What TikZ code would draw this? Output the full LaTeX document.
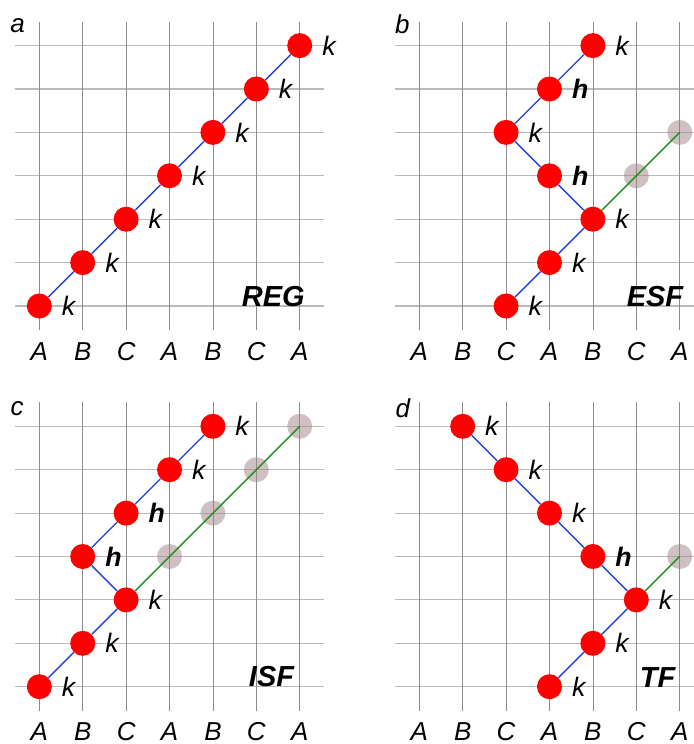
\documentclass[tikz,border=0pt]{standalone}
\usepackage{fontspec}
\setmainfont{Liberation Sans}
\usepackage{xcolor}
\usepackage{tikz}
\usetikzlibrary{positioning}
\definecolor{latticered}{HTML}{FF0000}
\definecolor{stackblue}{HTML}{2040E0}
\definecolor{faultgreen}{HTML}{1E8C1E}
\definecolor{ghostbrown}{HTML}{A08484}
\tikzset{
  gridh/.style={black!27,line width=0.7pt},
  gridv/.style={black!45,line width=0.45pt},
  bond/.style={stackblue,line width=0.9pt},
  faultbond/.style={faultgreen,line width=0.9pt},
  atom/.style={circle,fill=latticered,inner sep=0pt,minimum size=0.576cm},
  ghost/.style={circle,fill=ghostbrown,fill opacity=0.5,inner sep=0pt,minimum size=0.576cm},
  sitelabel/.style={font=\fontsize{17.5}{17.5}\selectfont\itshape,right=0.1cm of #1},
  hexlabel/.style={font=\fontsize{17.5}{17.5}\selectfont\bfseries\itshape,right=0.1cm of #1},
  layer/.style={font=\fontsize{17}{17}\selectfont\itshape},
  faultname/.style={font=\fontsize{19}{19}\selectfont\bfseries\itshape},
  panel/.style={font=\fontsize{17}{17}\selectfont\itshape}
}

\begin{document}
\begin{tikzpicture}
\useasboundingbox (0,0) rectangle (15.968,17.143);

% panel a: regular stacking
\begin{scope}[shift={(0.906,10.092)}]
\foreach \r in {0,...,6} \draw[gridh] (-0.56,\r) -- (6.56,\r);
\foreach \c/\l in {0/A,1/B,2/C,3/A,4/B,5/C,6/A} {
  \draw[gridv] (\c,-0.55) -- (\c,6.55);
  \node[layer] at (\c,-1.04) {\l};
}
\node[panel] (tagA) at (-0.50,6.47) {a};
\node[atom] (a0) at (0,0) {};
\node[atom] (a1) at (1,1) {};
\node[atom] (a2) at (2,2) {};
\node[atom] (a3) at (3,3) {};
\node[atom] (a4) at (4,4) {};
\node[atom] (a5) at (5,5) {};
\node[atom] (a6) at (6,6) {};
\draw[bond] (a0) -- (a1) -- (a2) -- (a3) -- (a4) -- (a5) -- (a6);
\foreach \n in {a0,a1,a2,a3,a4,a5,a6} \node[sitelabel=\n] {k};
\node[faultname] (nameA) at (5.39,0.21) {REG};
\end{scope}

% panel b: extrinsic stacking fault
\begin{scope}[shift={(9.661,10.092)}]
\foreach \r in {0,...,6} \draw[gridh] (-0.56,\r) -- (6.56,\r);
\foreach \c/\l in {0/A,1/B,2/C,3/A,4/B,5/C,6/A} {
  \draw[gridv] (\c,-0.55) -- (\c,6.55);
  \node[layer] at (\c,-1.04) {\l};
}
\node[panel] (tagB) at (-0.39,6.49) {b};
\node[ghost] (bg1) at (5,3) {};
\node[ghost] (bg2) at (6,4) {};
\node[atom] (b0) at (2,0) {};
\node[atom] (b1) at (3,1) {};
\node[atom] (b2) at (4,2) {};
\node[atom] (b3) at (3,3) {};
\node[atom] (b4) at (2,4) {};
\node[atom] (b5) at (3,5) {};
\node[atom] (b6) at (4,6) {};
\draw[faultbond] (b2) -- (bg2.center);
\draw[bond] (b0) -- (b1) -- (b2) -- (b3) -- (b4) -- (b5) -- (b6);
\foreach \n in {b0,b1,b2,b4,b6} \node[sitelabel=\n] {k};
\foreach \n in {b3,b5} \node[hexlabel=\n] {h};
\node[faultname] (nameB) at (5.43,0.21) {ESF};
\end{scope}

% panel c: intrinsic stacking fault
\begin{scope}[shift={(0.906,1.320)}]
\foreach \r in {0,...,6} \draw[gridh] (-0.56,\r) -- (6.56,\r);
\foreach \c/\l in {0/A,1/B,2/C,3/A,4/B,5/C,6/A} {
  \draw[gridv] (\c,-0.55) -- (\c,6.55);
  \node[layer] at (\c,-1.04) {\l};
}
\node[panel] (tagC) at (-0.51,6.41) {c};
\node[ghost] (cg1) at (3,3) {};
\node[ghost] (cg2) at (4,4) {};
\node[ghost] (cg3) at (5,5) {};
\node[ghost] (cg4) at (6,6) {};
\node[atom] (c0) at (0,0) {};
\node[atom] (c1) at (1,1) {};
\node[atom] (c2) at (2,2) {};
\node[atom] (c3) at (1,3) {};
\node[atom] (c4) at (2,4) {};
\node[atom] (c5) at (3,5) {};
\node[atom] (c6) at (4,6) {};
\draw[faultbond] (c2) -- (cg4.center);
\draw[bond] (c0) -- (c1) -- (c2) -- (c3) -- (c4) -- (c5) -- (c6);
\foreach \n in {c0,c1,c2,c5,c6} \node[sitelabel=\n] {k};
\foreach \n in {c3,c4} \node[hexlabel=\n] {h};
\node[faultname] (nameC) at (5.35,0.23) {ISF};
\end{scope}

% panel d: twin fault
\begin{scope}[shift={(9.661,1.320)}]
\foreach \r in {0,...,6} \draw[gridh] (-0.56,\r) -- (6.56,\r);
\foreach \c/\l in {0/A,1/B,2/C,3/A,4/B,5/C,6/A} {
  \draw[gridv] (\c,-0.55) -- (\c,6.55);
  \node[layer] at (\c,-1.04) {\l};
}
\node[panel] (tagD) at (-0.38,6.42) {d};
\node[ghost] (dg1) at (6,3) {};
\node[atom] (d0) at (3,0) {};
\node[atom] (d1) at (4,1) {};
\node[atom] (d2) at (5,2) {};
\node[atom] (d3) at (4,3) {};
\node[atom] (d4) at (3,4) {};
\node[atom] (d5) at (2,5) {};
\node[atom] (d6) at (1,6) {};
\draw[faultbond] (d2) -- (dg1.center);
\draw[bond] (d0) -- (d1) -- (d2) -- (d3) -- (d4) -- (d5) -- (d6);
\foreach \n in {d0,d1,d2,d4,d5,d6} \node[sitelabel=\n] {k};
\node[hexlabel=d3] {h};
\node[faultname] (nameD) at (5.49,0.22) {TF};
\end{scope}
\end{tikzpicture}
\end{document}
